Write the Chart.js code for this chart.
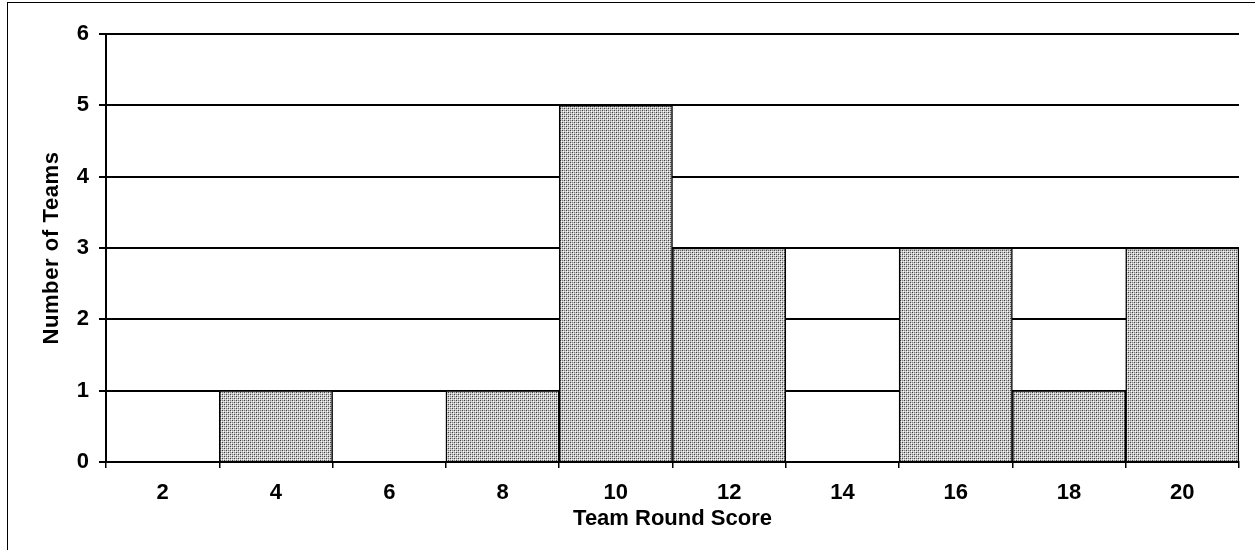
<!DOCTYPE html>
<html>
<head>
<meta charset="utf-8">
<script src="https://cdn.jsdelivr.net/npm/chart.js@4"></script>
<style>
    html, body { margin: 0; padding: 0; background: #fff; }
    #wrap { position: relative; width: 1255px; height: 550px; }
    #frame { position: absolute; left: 7px; top: 2px; right: 0; bottom: 0;
             border-top: 1px solid #000; border-left: 1px solid #000; }
    canvas { position: absolute; left: 0; top: 0; }
</style>
</head>
<body>
<div id="wrap">
  <div id="frame"></div>
  <canvas id="chart" width="1255" height="550"></canvas>
</div>
<script>
const SCORES = ['2', '4', '6', '8', '10', '12', '14', '16', '18', '20'];
const TEAM_COUNTS = [0, 1, 0, 1, 5, 3, 0, 3, 1, 3];
const Y_TICKS = [0, 1, 2, 3, 4, 5, 6];

const FONT = '"Liberation Sans", Arial, sans-serif';
const TITLE_SPACING = { x: '0px', y: '0.6px' };

// Stippled gray fill like the old spreadsheet pattern
function makeStipple() {
    const rows = [
        ['#404040', '#c8c8c8', '#808080', '#c8c8c8'],
        ['#c8c8c8', '#ffffff', '#c8c8c8', '#e0e0e0'],
        ['#808080', '#c8c8c8', '#404040', '#c8c8c8'],
        ['#c8c8c8', '#e0e0e0', '#c8c8c8', '#ffffff'],
    ];
    const c = document.createElement('canvas');
    c.width = 4; c.height = 4;
    const g = c.getContext('2d');
    rows.forEach((row, y) => row.forEach((col, x) => {
        g.fillStyle = col;
        g.fillRect(x, y, 1, 1);
    }));
    return g.createPattern(c, 'repeat');
}

// add a touch of letter spacing only while the axis titles draw
const titleSpacing = {
    id: 'titleSpacing',
    beforeDraw(chart) {
        Object.values(chart.scales).forEach(scale => {
            if (scale._spaced) return;
            const orig = scale.drawTitle;
            scale.drawTitle = function () {
                const ctx = this.ctx;
                ctx.letterSpacing = TITLE_SPACING[this.id] || '0px';
                orig.apply(this, arguments);
                ctx.letterSpacing = '0px';
            };
            scale._spaced = true;
        });
    },
};

document.addEventListener('DOMContentLoaded', () => {
    const canvas = document.getElementById('chart');
    const stipple = makeStipple();

    new Chart(canvas, {
        type: 'bar',
        data: {
            labels: SCORES,
            datasets: [{
                data: TEAM_COUNTS,
                backgroundColor: stipple,
                borderColor: '#000',
                borderWidth: 1.5,
                barPercentage: 1,
                categoryPercentage: 1,
            }],
        },
        plugins: [titleSpacing],
        options: {
            responsive: false,
            animation: false,
            layout: { padding: { top: 34, right: 16, left: 0, bottom: 0 } },
            plugins: {
                legend: { display: false },
                tooltip: { enabled: false },
            },
            scales: {
                x: {
                    afterFit: s => { s.height = 88; },
                    grid: {
                        offset: true,
                        drawOnChartArea: false,
                        color: '#000',
                        lineWidth: 1.5,
                        tickLength: 6,
                    },
                    border: { display: true, color: '#000', width: 2 },
                    ticks: {
                        color: '#000',
                        padding: 12,
                        font: { family: FONT, size: 22, weight: 'bold' },
                    },
                    title: {
                        display: true,
                        text: 'Team Round Score',
                        color: '#000',
                        padding: { top: 0, bottom: 18 },
                        font: { family: FONT, size: 22, weight: 'bold' },
                    },
                },
                y: {
                    min: Y_TICKS[0],
                    max: Y_TICKS[Y_TICKS.length - 1],
                    afterFit: s => { s.width = 106; },
                    grid: {
                        color: '#000',
                        lineWidth: 2,
                        tickLength: 7,
                    },
                    border: { display: true, color: '#000', width: 2 },
                    ticks: {
                        stepSize: 1,
                        color: '#000',
                        padding: 10,
                        font: { family: FONT, size: 22, weight: 'bold' },
                    },
                    title: {
                        display: true,
                        text: 'Number of Teams',
                        color: '#000',
                        padding: { top: 39, bottom: 0 },
                        font: { family: FONT, size: 22, weight: 'bold' },
                    },
                },
            },
        },
    });
});
</script>
</body>
</html>
